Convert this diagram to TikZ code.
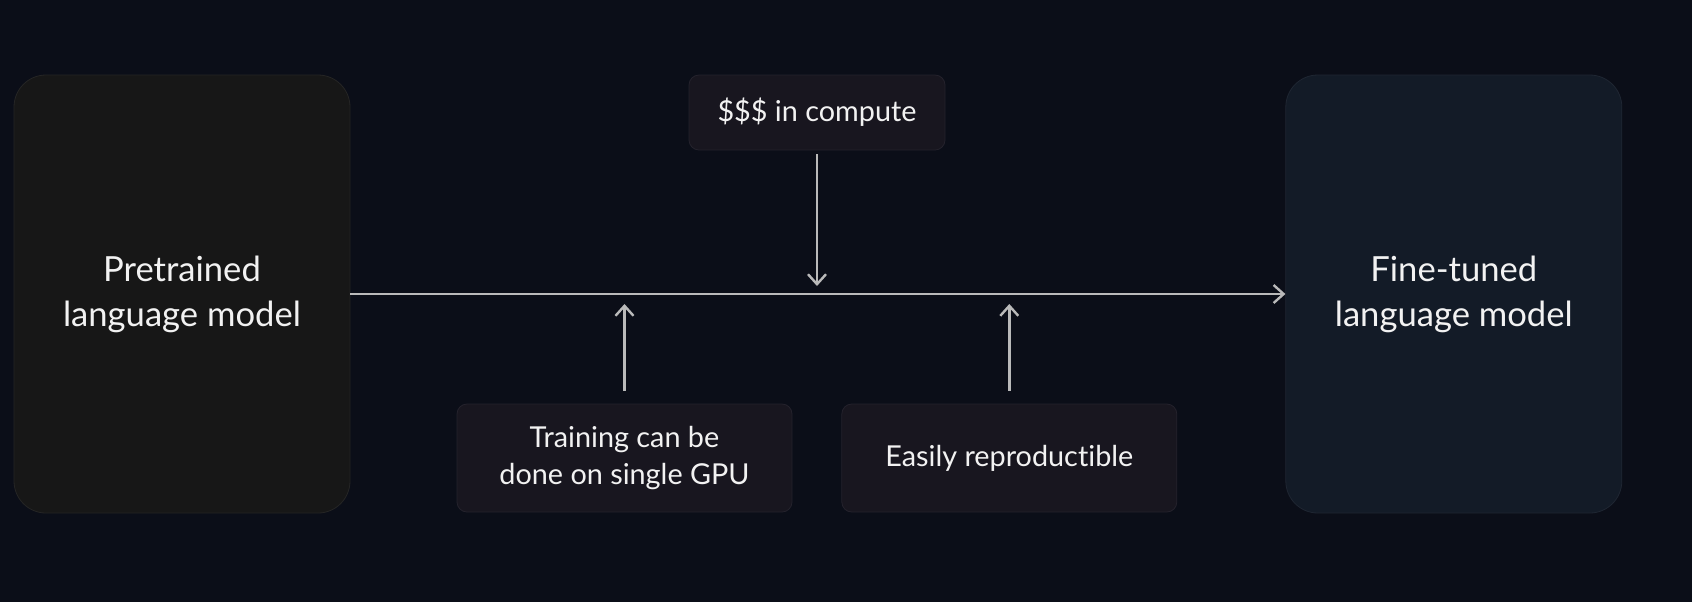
\documentclass[tikz,border=0pt]{standalone}
\usepackage{fontspec}
\setmainfont{Lato}[Ligatures={NoCommon}]
\usepackage{xcolor}
\usetikzlibrary{arrows.meta,positioning}

\definecolor{bgc}{HTML}{0B0E18}
\definecolor{prefill}{HTML}{171717}
\definecolor{predraw}{HTML}{252525}
\definecolor{ftfill}{HTML}{131B27}
\definecolor{ftdraw}{HTML}{1F2632}
\definecolor{notefill}{HTML}{18161F}
\definecolor{notedraw}{HTML}{24222C}
\definecolor{arrc}{HTML}{BABABA}
\definecolor{txtc}{HTML}{F2F2F2}

\begin{document}
\begin{tikzpicture}[
  x=0.5pt, y=-0.5pt,
  model/.style={draw=predraw, fill=prefill, rounded corners=16pt, align=center, text=txtc,
    minimum width=168pt, minimum height=219pt, inner sep=0pt,
    font=\fontsize{17.3}{22.5}\selectfont},
  note/.style={draw=notedraw, fill=notefill, rounded corners=5pt, align=center, text=txtc,
    minimum width=167.5pt, minimum height=54pt, inner sep=0pt,
    font=\fontsize{14.4}{18.5}\selectfont},
  arr/.style={-{Straight Barb[length=5pt,width=9pt]}, draw=arrc, line width=1.2pt},
]
% background
\fill[bgc] (0,0) rectangle (1692,602);
% models
\node[model] (pre) at (182,294) {Pretrained\\language model};
\node[model, draw=ftdraw, fill=ftfill, right=467.5pt of pre] (ft) {Fine-tuned\\language model};
% notes
\node[note, minimum width=128pt, minimum height=37.5pt] (cost) at (817,112.5) {\$\$\$ in compute};
\node[note] (gpu) at (624.5,458) {Training can be\\done on single GPU};
\node[note, right=24.5pt of gpu] (repro) {Easily reproductible};
% arrows
\draw[arr] (pre.east) -- (ft.west);
\draw[arr, shorten <=2pt, shorten >=4pt] (cost.south) -- (cost.south |- pre.east);
\draw[arr, shorten <=6.5pt, shorten >=5pt] (gpu.north) -- (gpu.north |- pre.east);
\draw[arr, shorten <=6.5pt, shorten >=5pt] (repro.north) -- (repro.north |- pre.east);
\end{tikzpicture}
\end{document}
